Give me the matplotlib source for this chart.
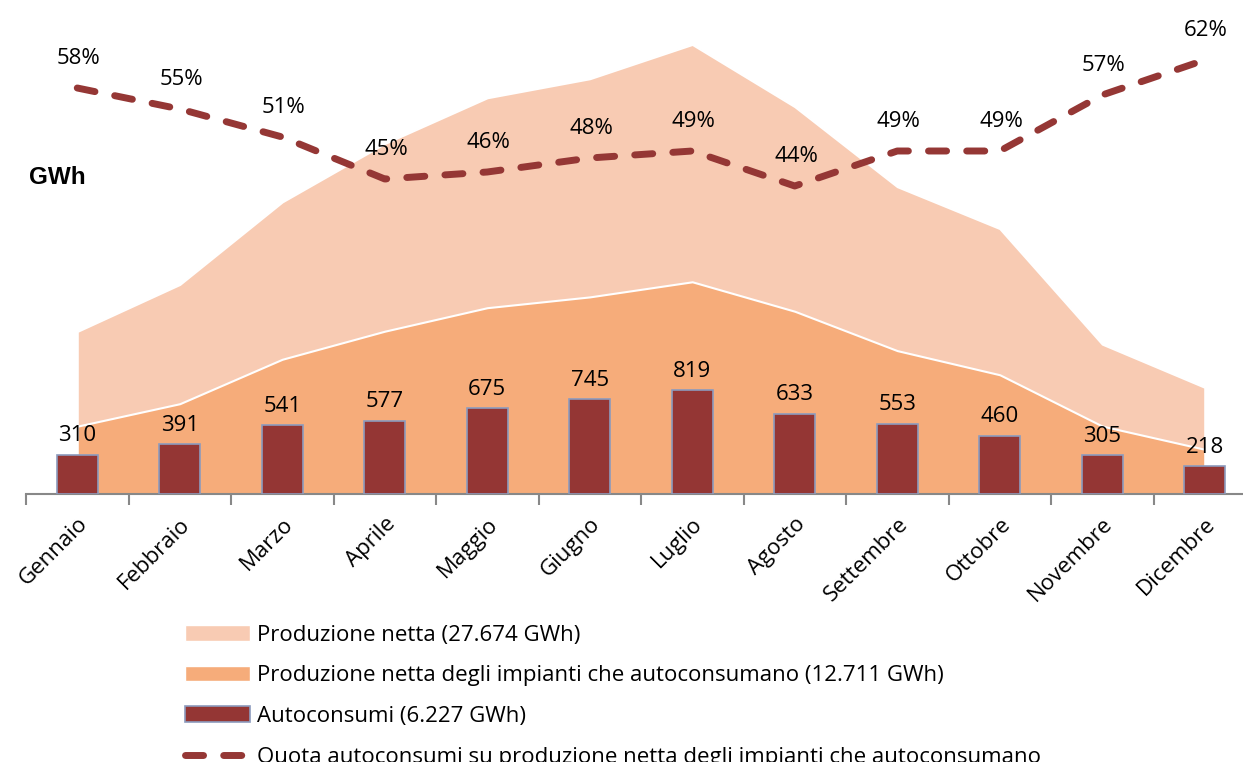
import numpy as np
import matplotlib.pyplot as plt
from matplotlib.patches import Patch
from matplotlib.lines import Line2D

mesi = ["Gennaio", "Febbraio", "Marzo", "Aprile", "Maggio", "Giugno",
        "Luglio", "Agosto", "Settembre", "Ottobre", "Novembre", "Dicembre"]
produzione_netta = [1280, 1650, 2300, 2760, 3120, 3270, 3540, 3050, 2420, 2090, 1180, 840]
produzione_autocons = [534, 711, 1061, 1282, 1467, 1552, 1671, 1439, 1129, 939, 535, 352]
autoconsumi = [310, 391, 541, 577, 675, 745, 819, 633, 553, 460, 305, 218]
quota = [58, 55, 51, 45, 46, 48, 49, 44, 49, 49, 57, 62]

c_chiaro = "#F8CBB3"
c_arancio = "#F6AC7A"
c_barre = "#943634"
c_linea = "#953735"
tratteggio = (0, (2.6, 2.9))

plt.rcParams['font.family'] = ['Open Sans', 'DejaVu Sans']

fig = plt.figure(figsize=(12.43, 7.62), dpi=100)
ax = fig.add_axes([26 / 1243, 1 - 494 / 762, 1230 / 1243, 494 / 762])
x = np.arange(len(mesi))

ax.fill_between(x, 0, produzione_netta, color=c_chiaro, edgecolor="white", linewidth=1.5, zorder=1)
ax.fill_between(x, 0, produzione_autocons, color=c_arancio, edgecolor="white", linewidth=1.5, zorder=2)
ax.bar(x, autoconsumi, width=0.4, color=c_barre, edgecolor="#8C9BBE", linewidth=1.2, zorder=3)
for xi, v in zip(x, autoconsumi):
    ax.annotate(str(v), (xi, v), xytext=(0, 6), textcoords="offset points",
                ha="center", va="bottom", fontsize=16, zorder=6)

ax.set_xlim(-0.5, 11.5)
ax.set_ylim(0, 494 / 0.127)
ax.set_yticks([])
for s in ["left", "right", "top"]:
    ax.spines[s].set_visible(False)
ax.spines["bottom"].set_color("#888888")
ax.spines["bottom"].set_linewidth(1.5)
ax.set_xticks(x)
ax.set_xticklabels(mesi, rotation=45, ha="right", rotation_mode="anchor", fontsize=16)
ax.tick_params(axis="x", which="major", length=0, pad=14)
ax.set_xticks(np.arange(-0.5, 12, 1), minor=True)
ax.tick_params(axis="x", which="minor", length=8, width=1.5, color="#888888")
ax.patch.set_visible(False)

ax2 = ax.twinx()
ax2.set_ylim(0, 494 / 7)
ax2.axis("off")
ax2.plot(x, quota, color=c_linea, linewidth=5, linestyle=tratteggio,
         dash_capstyle="round", solid_capstyle="round", zorder=5)
for xi, q in zip(x, quota):
    ax2.annotate(f"{q}%", (xi, q), xytext=(1, 14), textcoords="offset points",
                 ha="center", va="bottom", fontsize=16)

fig.text(29 / 1243, 1 - 177 / 762, "GWh", fontsize=17.5, fontweight="bold",
         family="Liberation Sans", va="center", ha="left")

handles = [
    Patch(facecolor=c_chiaro, edgecolor="white"),
    Patch(facecolor=c_arancio, edgecolor="white"),
    Patch(facecolor=c_barre, edgecolor="#8C9BBE", linewidth=1.2),
    Line2D([0], [0], color=c_linea, linewidth=5, linestyle=tratteggio, dash_capstyle="round"),
]
etichette = [
    "Produzione netta (27.674 GWh)",
    "Produzione netta degli impianti che autoconsumano (12.711 GWh)",
    "Autoconsumi (6.227 GWh)",
    "Quota autoconsumi su produzione netta degli impianti che autoconsumano",
]
fig.legend(handles, etichette, loc="upper left", bbox_to_anchor=(176 / 1243, 1 - 616 / 762),
           frameon=False, fontsize=16, handlelength=2.95, handleheight=0.7,
           labelspacing=0.88, handletextpad=0.3, borderaxespad=0)

fig.savefig("out.png", dpi=100)
